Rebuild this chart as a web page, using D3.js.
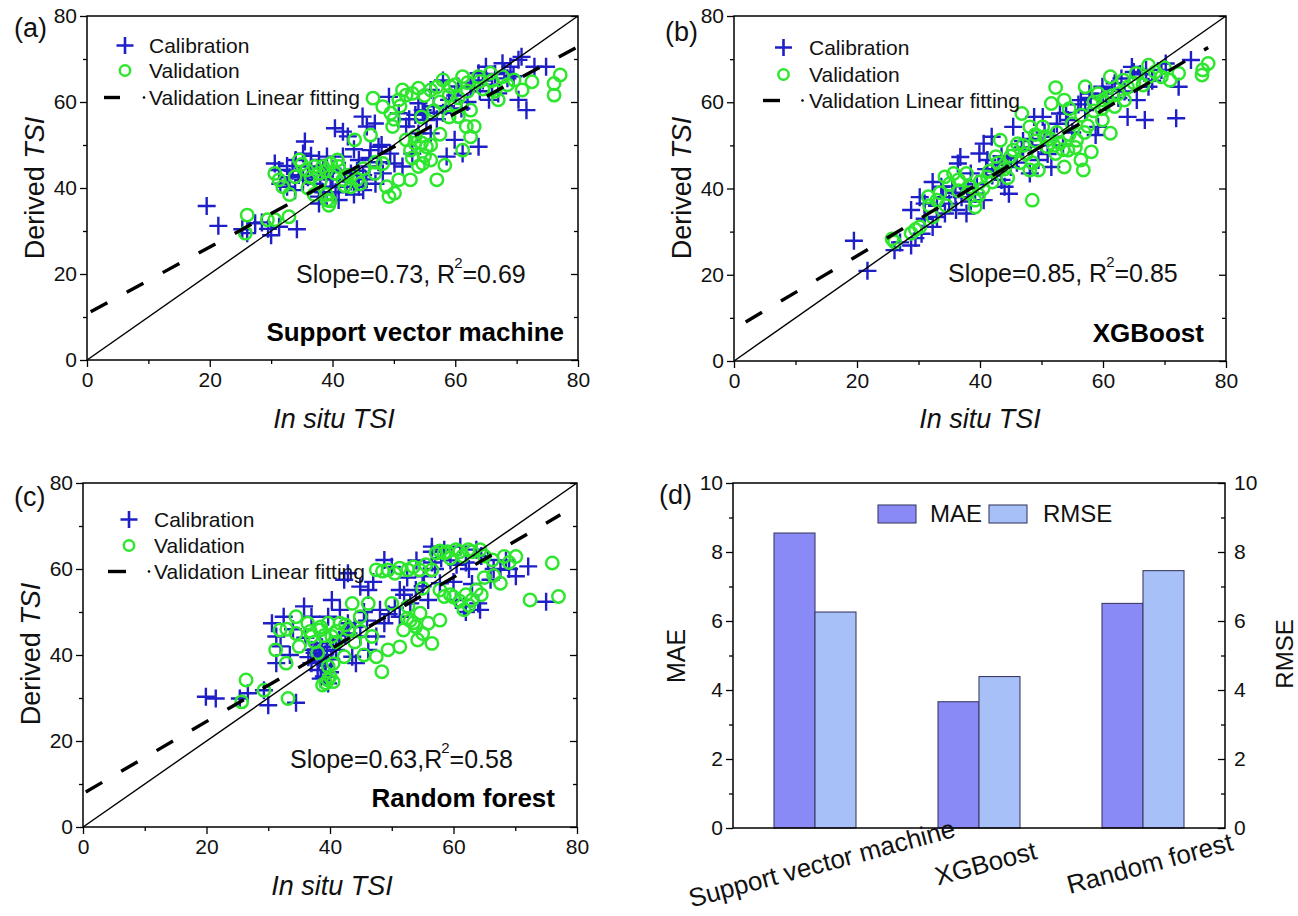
<!DOCTYPE html>
<html><head><meta charset="utf-8">
<script src="https://cdn.jsdelivr.net/npm/d3@7/dist/d3.min.js"></script>
<style>
html,body{margin:0;padding:0;background:#fff;}
svg{display:block;font-family:"Liberation Sans",Arial,Helvetica,sans-serif;}
</style></head>
<body>
<svg id="chart" width="1298" height="916"></svg>
<script>
// ---------------- DATA ----------------
const modelNames = ["Support vector machine", "XGBoost", "Random forest"];
const seriesNames = ["MAE", "RMSE"];
const maeValues = [8.55, 3.66, 6.51];
const rmseValues = [6.26, 4.39, 7.46];
const scatterTicks = [0, 20, 40, 60, 80];
const scatterMinorTicks = [10, 30, 50, 70];
const barTicks = [0, 2, 4, 6, 8, 10];
const barMinorTicks = [1, 3, 5, 7, 9];
const statPrefix = ["Slope=0.73, R", "Slope=0.85, R", "Slope=0.63,R"];
const statSuffix = ["=0.69", "=0.85", "=0.58"];
const panelLabels = ["(a)", "(b)", "(c)", "(d)"];
const legendLabels = ["Calibration", "Validation", "Validation Linear fitting"];

// Validation linear fitting line endpoints [x, y] as drawn
const fitA = [[0.6, 11.2], [80, 72.9]];
const fitB = [[1.9, 9.05], [77.1, 72.7]];
const fitC = [[0.45, 8.15], [77.3, 72.6]];

const calA = [
[19.5,35.8],[21.4,31.2],[25.3,30.4],[26.1,29.5],[27.4,31.8],[30,29],[29.5,30.5],[31.3,31],[34.2,30.4],[28.5,32],
[30.6,45.7],[31.3,44.2],[32.6,45.1],[33.5,44],[31.5,41],[32.6,40.3],[33.9,39.5],[35.2,41.9],[34.5,43],[36,42.5],
[35.5,50.8],[35.2,48],[36.5,45],[37.8,46.5],[39.1,47.3],[41.7,47.3],[38.5,44.5],[37.8,38],[37.8,36.4],[38.5,39],
[39.7,40.3],[40.5,39],[41,37.2],[42.3,40.3],[43,43.4],[44.3,46.5],[44.3,40.3],[43.5,38.5],[45,39.5],[40.4,53.9],
[41.7,53.1],[42.5,52],[43.5,49],[44.9,56.6],[45.6,54.3],[46.9,55],[46.2,48.8],[47.5,49.6],[48.2,43.4],[49.4,48],
[50.1,45.7],[51.4,45],[49.2,61.2],[50.8,57.4],[52,54.3],[54,59.7],[54.7,58.1],[55.3,55.8],[53.5,57],[56,52.7],
[54,52.7],[57,56],[58,57.5],[56,62.8],[58,65],[60.5,63.6],[59.9,51.2],[58.6,47.3],[61.2,48],[63.8,49.6],
[62,60],[63.8,66.7],[65,68.2],[67.7,69],[69,68.2],[70.3,69.8],[70.8,70.5],[72.9,68.2],[74.8,68.2],[67,62],
[70.3,60.5],[71.6,58.1],[66,64],[64,62.5],[61,58.5],[59,60.5],[68.5,65.5],[65.5,60.5],[48,50],[46,45],
[42,44],[40,42],[37,41],[39,43.5],[45,43],[47,41],[53,48],
[38,42],[40,44.5],[41,40.5],[43,41.5],[44,44],[46,47],[45.5,42],[47.5,46],[52.5,56],[55,57.5],
[56.5,59],[58.5,59],[60,61.5],[62.5,63.5],[64.5,65],[66.5,66.5],[68,67],[69.5,66],[63,64.5],[36.5,47.5],
[34,46.5],[33,42.5]
];
const valA = [
[26.1,33.7],[25.8,29.5],[29.4,32.6],[30.6,32.6],[32.9,33.3],[30.6,43.4],[31.3,41.9],[31.9,40.3],[33.9,42.6],[34.6,46.5],
[35.8,44.2],[37.1,45],[37.8,43.4],[38.4,45],[39.7,45.7],[40.4,43.4],[39.1,37.2],[39.4,36],[39,38.5],[39.6,37],
[41.7,41.9],[43,40.3],[43.6,51.2],[46.2,52.3],[48.2,45.7],[46.9,43.4],[46.6,60.9],[48.2,58.9],[49.5,57.4],[49.8,54.3],
[48.8,40.3],[49.2,38],[50.1,38.8],[50.8,41.9],[52.7,41.9],[54,45],[54.7,45.7],[56,46.5],[57,41.9],[58.3,45.3],
[51.4,62.8],[52,61.6],[54,63.2],[56,62.8],[58,65.1],[59.2,63.6],[61.2,65.9],[63.8,65.9],[65.7,66.7],[67.7,65.9],
[69.6,65.1],[70.9,62.8],[72.5,64.7],[76.1,64.3],[76.1,61.6],[77.1,66.3],[67,60.5],[62.5,58.1],[61.8,54.3],[62.5,51.9],
[61.2,48.8],[60.5,56.6],[53.4,50.4],[52.7,48.8],[55.3,49.6],[52,51.2],[63.1,54.3],[57.5,60],[59,61.5],[60,59.5],
[53,47],[55,47.5],[44,42],[42,40.5],[36,40],[35,45.5],[41,45],[45,44.5],[47,46],[56.5,58],
[60.5,61],[64.5,63],[62,64.5],[66.5,62.5],[50,56],[51,59],[54.5,56.5],
[36.5,42.5],[38,41.5],[39,44],[40.8,46.5],[42.5,43],[44.5,41],[50.8,60.5],[53,62],[55,61.5],[57,63.5],
[60,64],[62,62.5],[64,64.8],[66,65],[68.5,64],[53.5,52],[54.5,50.5],[56,50],[57.5,52.5],[59,56.5],
[33,38.5],[37,38.5]
];
const calB = [
[19.5,27.9],[21.7,20.9],[26.1,25.7],[27,27.5],[28.8,26.8],[29.5,28.5],[30.5,29.5],[28.8,35],[30.2,38],[31,36.5],
[32.3,41.5],[33.7,40.4],[34.3,34.2],[33,33.4],[32.3,31.1],[36.1,35],[37.8,34.2],[36.4,45.8],[36.8,47.3],[35.5,40.5],
[38.5,43.5],[39.2,38.8],[40.6,37.3],[39.9,48.1],[40.6,50.4],[41.9,52],[41.2,46.6],[42.5,44],[43.5,42],[44,40.4],
[44.7,38.8],[45.4,54.3],[46.8,48.9],[46,46],[48.1,43.5],[49.5,46.6],[48.8,56.6],[50.2,56.6],[51.6,45],[53,57.4],
[54.3,55.9],[52,52],[53.5,50],[55,53],[57.1,58.2],[58.8,52.4],[59.2,54.3],[56.4,60.5],[57.8,62],[59.9,63.6],
[61.9,64.4],[60.5,60],[62.5,61],[64,56.6],[66.8,55.9],[71.9,56.3],[72.3,63.6],[67.4,63.6],[64.7,68.2],[66,66.5],
[69.5,67.5],[70.2,69],[74.3,69.8],[68,65],[63.5,62.5],[65.5,60.5],[38,40],[37,38],[42,43],[45,45],
[50,50],[51,48],[47,51],[43.5,47.5],
[34,38],[35,36.5],[36,39],[38.5,37],[39.5,41],[41,44.5],[43,45.5],[44.5,47],[47,49.5],[48.5,51.5],
[50.5,53],[52.5,55],[54,57.5],[56,59.5],[58,61],[60,62],[61.5,63],[63,65.5],[65,67],[67,67.5],
[33,36],[31,33]
];
const valB = [
[26.1,27.6],[25.7,28.3],[28.8,29.6],[30.2,31.1],[32.3,33.4],[31.6,38.1],[33,37.3],[31.8,36],[34.3,42.7],[35.7,43.5],
[37.8,43.5],[38.5,40.4],[39.2,37.3],[39.2,35.7],[39.8,38.5],[41.2,42.7],[42.6,47.4],[43.3,51.2],[45.4,48.9],[46.1,50.4],
[46.8,57.4],[48.5,37.3],[48.1,44.3],[49.5,44.3],[48.1,54.3],[50.2,54.3],[51.6,59.7],[52.3,63.4],[53.7,60.5],[50.9,49.7],
[52.3,48.1],[53.7,45],[54.3,48.9],[55.7,51.2],[56.4,46.6],[56.8,44.3],[58.1,48.5],[57.1,63.6],[59.2,62],[60.6,61],
[61.2,65.9],[63.3,65.1],[65.4,66.7],[67.4,68.6],[69.5,65.9],[70.9,65.1],[72.3,66.7],[76.1,66.3],[77.1,69],[76.2,67.5],
[61.2,52.8],[59.9,55.9],[61.9,59],[44,44.5],[42,41.5],[40.5,40],[36.5,39.5],[34.5,36],[46.5,46],[47.5,48],
[51.5,51.5],[52.5,53],[53,50.5],[55,55],[56.5,57],[58.5,58],[60,60.5],[62.5,62],[64,63.5],[66.5,64],
[68.5,67],[57.5,54.5],[54.5,58.5],[49,52.5],[44.5,42.5],[29.5,30.5],
[33.5,39],[35,41],[36.5,42],[38,39],[40,41.5],[41.5,44],[43,46],[45,47.5],[47,50],[49,51],
[50.5,52],[52,50],[53.5,49],[54.5,52.5],[55.5,49.5],[57,53],[58.5,60],[59.8,58.5],[61.5,61.5],[63.5,60.5],
[65,64.5],[67.5,66],[70,68],[48.5,46]
];
const calC = [
[19.9,30.3],[21.5,29.9],[25.4,29.9],[26.7,31.1],[30,28.3],[29.3,31.8],[34.5,28.9],[30.6,47.4],[31.3,44.3],[31.3,38.1],
[32.5,48.9],[32,42],[33.5,40],[35.8,51.3],[37,48.9],[38.4,39.6],[37.8,41.2],[39,35],[39.7,33.4],[38.5,34.5],
[40,36],[40.3,52.8],[42.3,57.5],[42.9,59],[44.9,55.9],[46.2,55.1],[44.9,44.3],[46.2,41.2],[48.8,62.1],[51.3,55.1],
[53.9,55.1],[55.9,52.8],[58.5,64.5],[56.5,65.2],[61.1,65.2],[63.7,64.5],[65.6,62.1],[67.6,59.8],[70.1,58.3],[72.1,60.6],
[75,52.4],[64.3,50.5],[61.7,51.3],[60.4,52.8],[57.8,56.7],[55.2,58.3],[48.1,50.5],[48.8,47.4],[47.5,44.3],[42.9,47.4],
[41.6,50.5],[39.7,48.9],[37,41.2],[38.4,42.7],[41,41.2],[43.6,39.6],[44.2,38.1],[37,38.1],[38,36.5],[51.3,48.9],
[39,40],[39.5,41],[38.8,39.2],[40.5,42],[36,44],[34,46],[50,60.5],[52.5,58],[54,62],[57,60],
[59.5,62],[62.5,60],[60,57],[63,56.5],[66,57.5],[68.5,62],[53,52],[45.5,50],[43,45],[47,57],
[37.5,40.5],[38.2,38.5],[39.3,37.5],[40.2,39],[38.7,41.8],[36.5,39.5],[41.5,43.5],[42.5,44.5],[44,46.5],[46,48],
[49.5,49.5],[50.5,51],[52,54],[55,56],[56.5,61.5],[58,62.5],[60.5,61],[62,61.5],[64.5,63],[66.5,60],
[62,50],[64,52],[69,60],[56.5,64]
];
const valC = [
[25.7,29.1],[26.4,34.2],[29.3,31.8],[33.2,29.9],[31.2,41.2],[31.9,45.8],[32.9,38.1],[34.5,48.9],[34.5,45],[36.4,47.4],
[37,44.3],[38.4,45.8],[39.7,47.4],[40.3,44.3],[39.7,37.3],[39.7,34.2],[39.3,33.5],[40,35],[41.6,47.4],[42.3,39.6],
[43.6,52],[44.9,48.9],[46.2,52],[46.8,44.3],[47.5,39.6],[48.4,36.1],[49.4,41.2],[51.3,41.9],[51.9,45.8],[47.5,59.8],
[49.4,59.8],[51.3,60.2],[52.6,59.8],[54.5,59.8],[56.5,59.8],[57.2,63.7],[58.5,63.7],[60.4,64.5],[62.4,64.5],[64.3,64.5],
[59.5,62.5],[61.5,63],[66.3,62.1],[68.2,62.9],[70.1,62.9],[67.6,56.7],[76,61.4],[72.4,52.8],[77,53.6],[57.8,55.1],
[58.5,53.6],[61.7,50.5],[63,52.8],[63.7,55.1],[54.6,49.7],[55.9,47.4],[56.5,42.7],[57.8,48.1],[53.9,46.6],[52.6,51.3],
[50,52],[54.2,43.5],[41,43],[43,46],[45,45.5],[37.5,43],[35,42],[33,46],[62,54],[65,58],
[60,53.5],[53,48],[55,55.5],[45.5,40],[38,40.5],
[38.5,46.5],[36.8,45.5],[39,44.5],[41,45.5],[42.5,47],[44,43],[40.5,38],[38.8,33],[40.5,33.8],[48.5,59.5],
[50.5,59],[53.5,60.5],[55.5,61],[57.8,64.2],[59,64],[61,64],[63,64],[65,63],[61,52.5],[62.5,51.5],
[64.5,54],[59.5,54],[53.5,47.5],[55,45],[52.5,48.5],[66.5,58.5],[69,61.5]
];

// ---------------- LAYOUT ----------------
const BLUE = "#1f1fc8", GREEN = "#2fe62f";
const svg = d3.select("#chart");
const FONT_TICK = 21;

const scatterPanels = [
  {left:87, right:578, top:16, bottom:360, cal:calA, val:valA, fit:fitA, idx:0,
   lab:[14,37], leg:{marker:38, dash:[17,33], dot:57, text:62, rows:[37,62,89]},
   stat:[296,283], name:[564,341], ylab:[44,188], xlab:[334,428]},
  {left:734, right:1226, top:16, bottom:361, cal:calB, val:valB, fit:fitB, idx:1,
   lab:[665,41], leg:{marker:49.5, dash:[29,46], dot:68.5, text:75, rows:[39,66,92]},
   stat:[948,282], name:[1204,342], ylab:[691,188], xlab:[980,428]},
  {left:83, right:577, top:483, bottom:827, cal:calC, val:valC, fit:fitC, idx:2,
   lab:[14,506], leg:{marker:46, dash:[25,43], dot:66, text:71, rows:[44,70,96]},
   stat:[290,768], name:[555,807], ylab:[40,654], xlab:[332,895]}
];

function plusPath(s){ return `M${-s},0H${s}M0,${-s}V${s}`; }

scatterPanels.forEach(p => {
  const x = d3.scaleLinear().domain([0,80]).range([p.left, p.right]);
  const y = d3.scaleLinear().domain([0,80]).range([p.bottom, p.top]);
  const g = svg.append("g");
  const clipId = "clip" + p.idx;
  svg.append("clipPath").attr("id", clipId).append("rect")
    .attr("x", p.left).attr("y", p.top).attr("width", p.right-p.left).attr("height", p.bottom-p.top);

  // axes
  g.append("g").attr("transform", `translate(0,${p.bottom})`)
    .call(d3.axisBottom(x).tickValues(scatterTicks).tickSize(7).tickPadding(5).tickFormat(d3.format("d")));
  g.append("g").attr("transform", `translate(0,${p.bottom})`)
    .call(d3.axisBottom(x).tickValues(scatterMinorTicks).tickSize(4).tickFormat(""));
  g.append("g").attr("transform", `translate(${p.left},0)`)
    .call(d3.axisLeft(y).tickValues(scatterTicks).tickSize(7).tickPadding(3).tickFormat(d3.format("d")));
  g.append("g").attr("transform", `translate(${p.left},0)`)
    .call(d3.axisLeft(y).tickValues(scatterMinorTicks).tickSize(4).tickFormat(""));
  g.append("g").attr("transform", `translate(${p.right},0)`)
    .call(d3.axisRight(y).tickValues(scatterTicks).tickSize(-7).tickFormat(""));
  g.append("g").attr("transform", `translate(${p.right},0)`)
    .call(d3.axisRight(y).tickValues(scatterMinorTicks).tickSize(-4).tickFormat(""));
  g.selectAll(".domain").remove();
  g.selectAll(".tick line").attr("stroke","#000").attr("stroke-width",1.3);
  g.selectAll(".tick text").attr("font-size", FONT_TICK).attr("fill","#111")
    .attr("font-family",'"Liberation Sans",Arial,sans-serif');

  // points
  const pts = g.append("g").attr("clip-path", `url(#${clipId})`);
  pts.selectAll("path.cal").data(p.cal).join("path").attr("class","cal")
    .attr("d", plusPath(9))
    .attr("transform", d => `translate(${x(d[0])},${y(d[1])})`)
    .attr("stroke", BLUE).attr("stroke-width", 2.4).attr("fill","none");
  pts.selectAll("circle.val").data(p.val).join("circle").attr("class","val")
    .attr("cx", d => x(d[0])).attr("cy", d => y(d[1])).attr("r", 6.2)
    .attr("stroke", GREEN).attr("stroke-width", 2.5).attr("fill","none");

  // 1:1 line
  pts.append("line").attr("x1", x(0)).attr("y1", y(0)).attr("x2", x(80)).attr("y2", y(80))
    .attr("stroke","#000").attr("stroke-width",1.4);
  // fit line
  pts.append("line").attr("x1", x(p.fit[0][0])).attr("y1", y(p.fit[0][1]))
    .attr("x2", x(p.fit[1][0])).attr("y2", y(p.fit[1][1]))
    .attr("stroke","#000").attr("stroke-width",3.4).attr("stroke-dasharray","19,22");

  // frame
  g.append("rect").attr("x", p.left).attr("y", p.top).attr("width", p.right-p.left).attr("height", p.bottom-p.top)
    .attr("fill","none").attr("stroke","#000").attr("stroke-width",1.5);

  // legend
  const L = p.leg;
  const lx = p.left, ty = p.top;
  const rowY = L.rows.map(r => ty + r - 7.5);
  g.append("path").attr("d", plusPath(8.5)).attr("transform", `translate(${lx+L.marker},${rowY[0]})`)
    .attr("stroke", BLUE).attr("stroke-width", 2.6).attr("fill","none");
  g.append("circle").attr("cx", lx+L.marker).attr("cy", rowY[1]).attr("r", 5.2)
    .attr("stroke", GREEN).attr("stroke-width", 2.5).attr("fill","none");
  g.append("line").attr("x1", lx+L.dash[0]).attr("x2", lx+L.dash[1]).attr("y1", rowY[2]).attr("y2", rowY[2])
    .attr("stroke","#000").attr("stroke-width",3.4);
  g.append("circle").attr("cx", lx+L.dot).attr("cy", rowY[2]).attr("r", 1.3).attr("fill","#000");
  legendLabels.forEach((t,i) => {
    g.append("text").attr("x", lx + L.text).attr("y", ty + L.rows[i])
      .attr("font-size", 21).attr("fill","#111").text(t);
  });

  // stats text
  const st = g.append("text").attr("x", p.stat[0]).attr("y", p.stat[1]).attr("font-size", 25).attr("fill","#111");
  st.append("tspan").text(statPrefix[p.idx]);
  st.append("tspan").attr("font-size", 15).attr("dy", -15).attr("dx", -1).text("2");
  st.append("tspan").attr("dy", 15).text(statSuffix[p.idx]);

  // model name
  g.append("text").attr("x", p.name[0]).attr("y", p.name[1]).attr("text-anchor","end")
    .attr("font-size", 26).attr("font-weight","bold").attr("fill","#000").text(modelNames[p.idx]);

  // panel label
  g.append("text").attr("x", p.lab[0]).attr("y", p.lab[1]).attr("font-size", 27).attr("fill","#111")
    .text(panelLabels[p.idx]);

  // axis titles
  const yt = g.append("text").attr("transform", `translate(${p.ylab[0]},${p.ylab[1]}) rotate(-90)`)
    .attr("text-anchor","middle").attr("font-size", 27).attr("fill","#111");
  yt.append("tspan").text("Derived ");
  yt.append("tspan").attr("font-style","italic").text("TSI");
  g.append("text").attr("x", p.xlab[0]).attr("y", p.xlab[1]).attr("text-anchor","middle")
    .attr("font-size", 27).attr("font-style","italic").attr("fill","#111").text("In situ TSI");
});

// ---------------- BAR PANEL (d) ----------------
(function(){
  const left = 733, right = 1225, top = 483, bottom = 828;
  const g = svg.append("g");
  const x = d3.scaleBand().domain(modelNames).range([left, right]).padding(0);
  const xs = d3.scaleBand().domain(seriesNames).range([0, x.bandwidth()*0.5]).padding(0);
  const yL = d3.scaleLinear().domain([0,10]).range([bottom, top]);
  const yR = d3.scaleLinear().domain([0,10]).range([bottom, top]);
  const colors = {MAE:"#8a8af7", RMSE:"#a7c0f7"};
  const rows = modelNames.map((m,i) => ({model:m, MAE:maeValues[i], RMSE:rmseValues[i]}));

  const grp = g.selectAll("g.grp").data(rows).join("g")
    .attr("transform", d => `translate(${x(d.model) + x.bandwidth()*0.25},0)`);
  grp.selectAll("rect").data(d => seriesNames.map(s => ({s, v: s==="MAE" ? d.MAE : d.RMSE, scale: s==="MAE" ? yL : yR})))
    .join("rect")
    .attr("x", d => xs(d.s)).attr("width", xs.bandwidth())
    .attr("y", d => d.scale(d.v)).attr("height", d => bottom - d.scale(d.v))
    .attr("fill", d => colors[d.s]).attr("stroke","#3c3c66").attr("stroke-width",1.1);

  g.append("g").attr("transform", `translate(${left},0)`)
    .call(d3.axisLeft(yL).tickValues(barTicks).tickSize(7).tickPadding(3).tickFormat(d3.format("d")));
  g.append("g").attr("transform", `translate(${left},0)`)
    .call(d3.axisLeft(yL).tickValues(barMinorTicks).tickSize(4).tickFormat(""));
  g.append("g").attr("transform", `translate(${right},0)`)
    .call(d3.axisRight(yR).tickValues(barTicks).tickSize(-7).tickPadding(9).tickFormat(d3.format("d")));
  g.append("g").attr("transform", `translate(${right},0)`)
    .call(d3.axisRight(yR).tickValues(barMinorTicks).tickSize(-4).tickFormat(""));
  g.selectAll(".domain").remove();
  g.selectAll(".tick line").attr("stroke","#000").attr("stroke-width",1.3);
  g.selectAll(".tick text").attr("font-size", FONT_TICK).attr("fill","#111")
    .attr("font-family",'"Liberation Sans",Arial,sans-serif');

  g.append("rect").attr("x", left).attr("y", top).attr("width", right-left).attr("height", bottom-top)
    .attr("fill","none").attr("stroke","#000").attr("stroke-width",1.5);

  // category labels
  modelNames.forEach(m => {
    g.append("text").attr("transform", `translate(${x(m)+x.bandwidth()/2+9},872) rotate(-15)`)
      .attr("text-anchor","middle").attr("font-size",26).attr("fill","#111").text(m);
  });

  // legend
  const legItems = [{s:"MAE", bx:878, tx:930}, {s:"RMSE", bx:989, tx:1043}];
  legItems.forEach(it => {
    g.append("rect").attr("x", it.bx).attr("y", 505).attr("width", 38).attr("height", 18)
      .attr("fill", colors[it.s]).attr("stroke","#3c3c66").attr("stroke-width",1.1);
    g.append("text").attr("x", it.tx).attr("y", 522).attr("font-size", 24).attr("fill","#111").text(it.s);
  });

  g.append("text").attr("x", 659).attr("y", 504).attr("font-size", 27).attr("fill","#111").text(panelLabels[3]);
  g.append("text").attr("transform", "translate(685,656) rotate(-90)").attr("text-anchor","middle")
    .attr("font-size", 25).attr("fill","#111").text("MAE");
  g.append("text").attr("transform", "translate(1293,654) rotate(-90)").attr("text-anchor","middle")
    .attr("font-size", 24).attr("fill","#111").text("RMSE");
})();
</script>
</body></html>
